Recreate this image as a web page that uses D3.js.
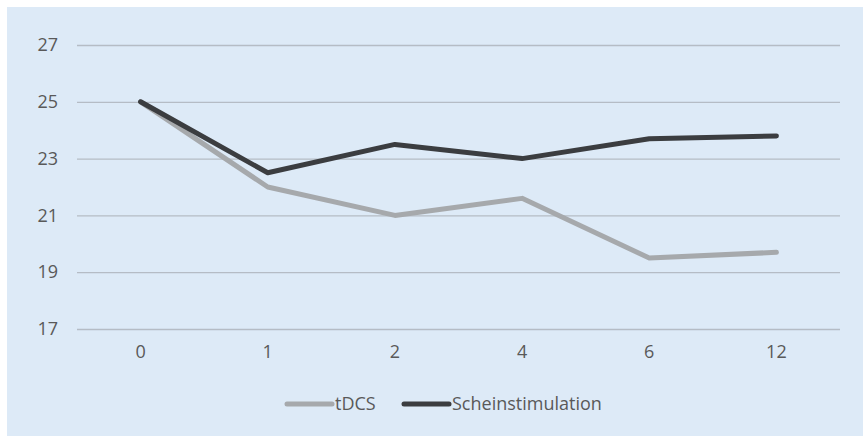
<!DOCTYPE html>
<html>
<head>
<meta charset="utf-8">
<script src="https://cdn.jsdelivr.net/npm/d3@7"></script>
<style>
  body { margin: 0; background: #fff; }
  svg { display: block; }
</style>
</head>
<body>
<div id="chart"></div>
<script>
// categories on the x axis
const categories = ["0", "1", "2", "4", "6", "12"];
// series values
const tdcs = [25, 22, 21, 21.6, 19.5, 19.7];
const schein = [25, 22.5, 23.5, 23, 23.7, 23.8];
const yTicks = [17, 19, 21, 23, 25, 27];

const series = [
    { name: "tDCS", values: tdcs, color: "#a6a9ac" },
    { name: "Scheinstimulation", values: schein, color: "#3b3d40" }
];

const width = 863, height = 436;
const margin = { top: 45, right: 23, bottom: 107, left: 77 };
const font = "'Open Sans', 'Noto Sans', sans-serif";
const fontSize = 18;

const svg = d3.select("#chart").append("svg")
    .attr("width", width)
    .attr("height", height);

// light blue panel
svg.append("rect")
    .attr("x", 7).attr("y", 7)
    .attr("width", width - 7).attr("height", height - 7)
    .attr("fill", "#ddeaf7");

const xScale = d3.scaleBand()
    .domain(categories)
    .range([margin.left, width - margin.right]);

const yScale = d3.scaleLinear()
    .domain([17, 27])
    .range([height - margin.bottom, margin.top]);

// gridlines + y labels
const yAxis = svg.append("g")
    .attr("transform", `translate(${margin.left},0)`)
    .call(d3.axisLeft(yScale)
        .tickValues(yTicks)
        .tickSize(-(width - margin.left - margin.right))
        .tickPadding(19));
yAxis.select(".domain").remove();
yAxis.selectAll("line").attr("stroke", "#b5bcc5").attr("stroke-width", 1.3);
yAxis.selectAll("text")
    .attr("fill", "#595959")
    .attr("font-family", font)
    .attr("font-size", fontSize);

// x labels
const xAxis = svg.append("g")
    .attr("transform", `translate(0,${height - margin.bottom})`)
    .call(d3.axisBottom(xScale).tickSize(0).tickPadding(16));
xAxis.select(".domain").remove();
xAxis.selectAll("text")
    .attr("fill", "#595959")
    .attr("font-family", font)
    .attr("font-size", fontSize);

const line = d3.line()
    .x((d, i) => xScale(categories[i]) + xScale.bandwidth() / 2)
    .y(d => yScale(d));

svg.append("g")
    .selectAll("path")
    .data(series)
    .enter()
    .append("path")
    .attr("fill", "none")
    .attr("stroke", d => d.color)
    .attr("stroke-width", 5)
    .attr("stroke-linecap", "round")
    .attr("stroke-linejoin", "round")
    .attr("d", d => line(d.values));

// legend
const legend = svg.append("g").attr("transform", "translate(0,404)");
const legendX = [287, 404];
series.forEach((s, i) => {
    const g = legend.append("g").attr("transform", `translate(${legendX[i]},0)`);
    g.append("line")
        .attr("x1", 0).attr("x2", 45)
        .attr("stroke", s.color)
        .attr("stroke-width", 5)
        .attr("stroke-linecap", "round");
    g.append("text")
        .attr("x", 48)
        .attr("dy", "0.35em")
        .attr("fill", "#595959")
        .attr("font-family", font)
        .attr("font-size", fontSize)
        .text(s.name);
});
</script>
</body>
</html>
